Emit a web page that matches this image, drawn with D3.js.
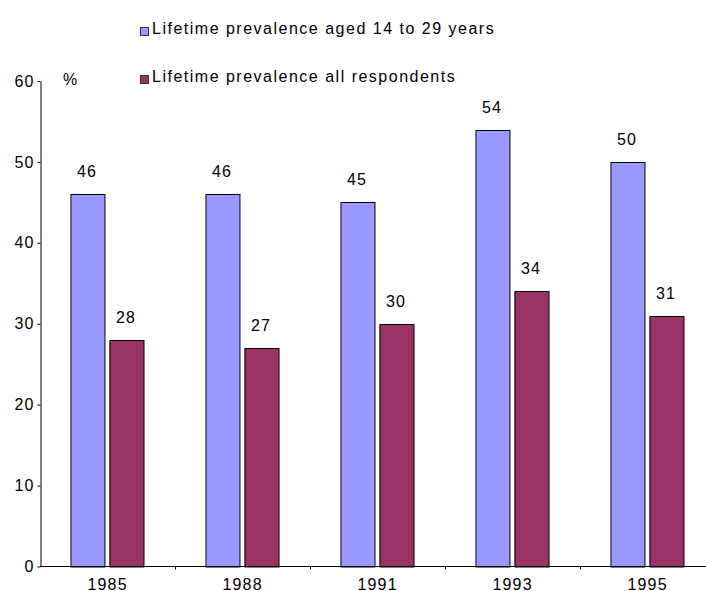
<!DOCTYPE html>
<html>
<head>
<meta charset="utf-8">
<script src="https://cdn.jsdelivr.net/npm/d3@7"></script>
<style>
  html, body { margin: 0; padding: 0; background: #fff; }
  svg { display: block; font-family: "Liberation Sans", Arial, sans-serif; }
</style>
</head>
<body>
<svg id="chart" width="706" height="591"></svg>
<script>
// Survey years
const years = ["1985", "1988", "1991", "1993", "1995"];
// Lifetime prevalence (%) by survey year
const youngValues = [46, 46, 45, 54, 50];
const allValues = [28, 27, 30, 34, 31];
const seriesNames = ["Lifetime prevalence aged 14 to 29 years", "Lifetime prevalence all respondents"];
const seriesColors = ["#9999FF", "#993366"];
const seriesEdge = ["#66668f", "#5e1f40"];
const yTicks = [0, 10, 20, 30, 40, 50, 60];

const svg = d3.select("#chart");
const W = 706;
const numSpacing = 1.2;

const x = d3.scaleBand().domain(years).range([39.5, 714.5]).paddingInner(0).paddingOuter(0);
const xs = d3.scaleBand().domain([0, 1]).range([31, 104]).paddingInner(0.13).paddingOuter(0);
const y = d3.scaleLinear().domain([0, 60]).range([566.5, 81]);

const rows = years.map((yr, i) => ({ year: yr, vals: [youngValues[i], allValues[i]] }));

// bars
const groups = svg.append("g").selectAll("g").data(rows).join("g")
  .attr("transform", d => `translate(${x(d.year)},0)`);

groups.selectAll("rect").data(d => d.vals.map((v, s) => ({ v, s }))).join("rect")
  .attr("x", d => xs(d.s) + 0.5)
  .attr("y", d => Math.round(y(d.v)) + 0.5)
  .attr("width", xs.bandwidth())
  .attr("height", d => y(0) - Math.round(y(d.v)))
  .attr("fill", d => seriesColors[d.s])
  .attr("stroke", "#000")
  .attr("stroke-width", 1);

// shaded left edge of each bar
groups.selectAll("line.edge").data(d => d.vals.map((v, s) => ({ v, s }))).join("line")
  .attr("class", "edge")
  .attr("x1", d => xs(d.s) + 0.5).attr("x2", d => xs(d.s) + 0.5)
  .attr("y1", d => Math.round(y(d.v)) + 1).attr("y2", y(0))
  .attr("stroke", d => seriesEdge[d.s]).attr("stroke-width", 1.2);

// value labels
groups.selectAll("text").data(d => d.vals.map((v, s) => ({ v, s }))).join("text")
  .attr("x", d => xs(d.s) + xs.bandwidth() / 2 - 1 + numSpacing / 2)
  .attr("y", d => y(d.v) - 17)
  .attr("text-anchor", "middle")
  .attr("font-size", 16)
  .attr("letter-spacing", numSpacing)
  .attr("fill", "#000")
  .text(d => d3.format(".0f")(d.v));

// y axis
const yAxis = d3.axisLeft(y).tickValues(yTicks).tickSize(3).tickSizeOuter(0).tickPadding(4);
const gy = svg.append("g").attr("transform", "translate(40.5,0)").call(yAxis);
gy.select(".domain").attr("stroke", "#000");
gy.selectAll(".tick line").attr("stroke", "#000");
gy.selectAll(".tick text")
  .attr("font-size", 16)
  .attr("font-family", "Liberation Sans, Arial, sans-serif")
  .attr("letter-spacing", numSpacing)
  .attr("dx", numSpacing)
  .attr("fill", "#000");

svg.append("text").attr("x", 63).attr("y", 85).attr("font-size", 16).attr("letter-spacing", numSpacing).text("%");

// x axis
const gx = svg.append("g").attr("transform", `translate(0,${y(0)})`);
gx.append("line").attr("x1", 40).attr("x2", W).attr("y1", 0).attr("y2", 0).attr("stroke", "#000");
gx.selectAll("line.tk").data(years.slice(1)).join("line")
  .attr("class", "tk")
  .attr("x1", d => Math.round(x(d)) + 0.5).attr("x2", d => Math.round(x(d)) + 0.5)
  .attr("y1", 0).attr("y2", 3).attr("stroke", "#000");
gx.selectAll("text").data(years).join("text")
  .attr("x", d => x(d) + x.bandwidth() / 2 + numSpacing / 2)
  .attr("y", 23)
  .attr("text-anchor", "middle")
  .attr("font-size", 16)
  .attr("letter-spacing", numSpacing)
  .text(d => d);

// legend
const legend = svg.append("g").selectAll("g").data(seriesNames).join("g")
  .attr("transform", (d, i) => `translate(140,${27 + i * 48})`);
legend.append("rect").attr("x", 0.5).attr("y", 0.5).attr("width", 8).attr("height", 8)
  .attr("fill", (d, i) => seriesColors[i]).attr("stroke", "#333").attr("stroke-width", 1);
legend.append("text").attr("x", 12).attr("y", 6.5).attr("font-size", 16)
  .attr("letter-spacing", 1.5).text(d => d);
</script>
</body>
</html>
